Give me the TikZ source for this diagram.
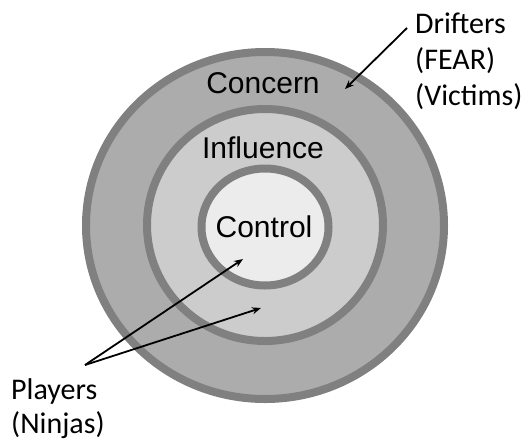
\documentclass[tikz,border=0pt]{standalone}
\usepackage{fontspec}
\setmainfont{Liberation Sans}
\newfontfamily\labelfont{Carlito}
\definecolor{ringline}{RGB}{128, 128, 128}
\definecolor{concernfill}{RGB}{172, 172, 172}
\definecolor{influencefill}{RGB}{204, 204, 204}
\definecolor{controlfill}{RGB}{236, 236, 236}
\usetikzlibrary{shapes.geometric, arrows.meta}

\begin{document}
\begin{tikzpicture}[x=1pt, y=-1pt,
    ring/.style={draw=ringline, line width=8pt, ellipse, inner sep=0pt},
    ringtext/.style={font=\fontsize{30}{36}\selectfont, inner sep=0pt},
    sidetext/.style={font=\labelfont\fontsize{30}{36}\selectfont, align=left, inner sep=0pt},
    pointer/.style={draw=black, line width=1.8pt, -{Stealth[length=9pt, width=7pt]}}]
  \useasboundingbox (0,0) rectangle (529,442);

  % Rings
  \node[ring, fill=concernfill, minimum width=358pt, minimum height=347pt] (concern) at (265, 225.5) {};
  \node[ring, fill=influencefill, minimum width=236pt, minimum height=232pt] (influence) at (265, 225) {};
  \node[ring, fill=controlfill, minimum width=127pt, minimum height=117pt] (control) at (265, 227) {};

  % Ring labels
  \node[ringtext] (concernlbl) at (263, 83) {Concern};
  \node[ringtext] (influencelbl) at (263, 148) {Influence};
  \node[ringtext] (controllbl) at (264, 227) {Control};

  % Side labels
  \node[sidetext, anchor=west] (drifters) at (415, 61) {Drifters\\(FEAR)\\(Victims)};
  \node[sidetext, anchor=west, font=\labelfont\fontsize{30}{34}\selectfont] (players) at (11, 409) {Players\\(Ninjas)};

  % Pointers
  \coordinate (driftstart) at (407, 28);
  \coordinate (drifttip) at (345, 89);
  \coordinate (playstart) at (85, 365);
  \coordinate (controltip) at (243, 259);
  \coordinate (influencetip) at (261, 308);
  \draw[pointer] (driftstart) -- (drifttip);
  \draw[pointer] (playstart) -- (controltip);
  \draw[pointer] (playstart) -- (influencetip);
\end{tikzpicture}
\end{document}
